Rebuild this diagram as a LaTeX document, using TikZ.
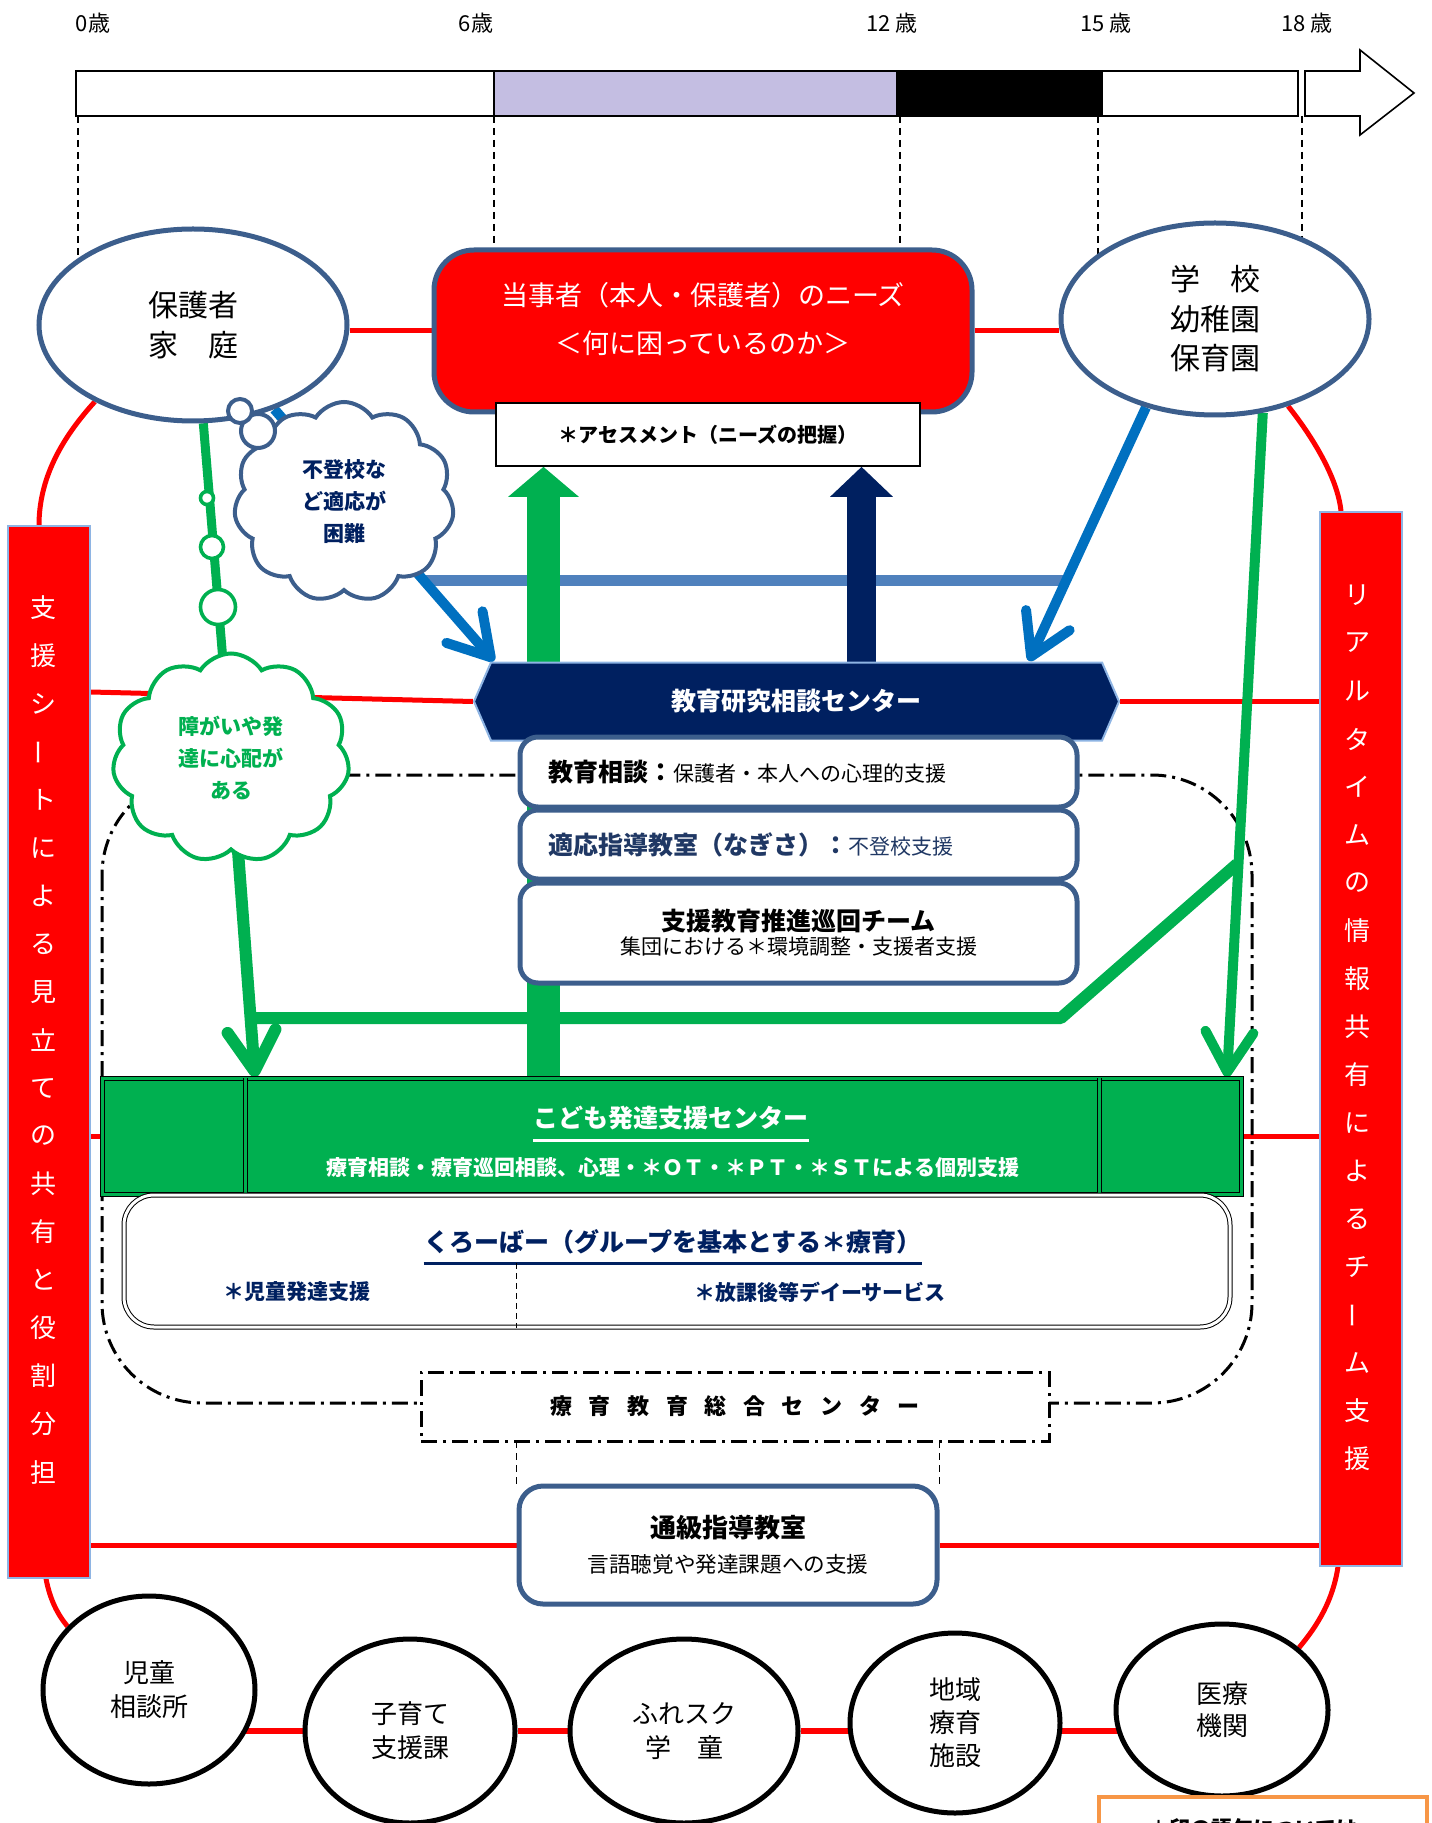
\documentclass[tikz,border=0pt]{standalone}
\usepackage{fontspec}
\setmainfont{Noto Sans CJK JP}
\usepackage{graphicx}
\usetikzlibrary{shapes.geometric,shapes.symbols,arrows.meta,calc}
\pgfdeclarelayer{bg}
\pgfsetlayers{bg,main}
\newcommand\fsz[2]{\fontsize{#1}{#2}\selectfont}
\newcommand\vbar{\rotatebox[origin=c]{90}{ー}}
\definecolor{cred}{HTML}{FF0000}
\definecolor{csteel}{HTML}{3C5E8C}
\definecolor{cnavy}{HTML}{002060}
\definecolor{cnavyb}{HTML}{203864}
\definecolor{cgreen}{HTML}{00B050}
\definecolor{cblue}{HTML}{0070C0}
\definecolor{clbar}{HTML}{4F81BD}
\definecolor{clav}{HTML}{C4BEE2}
\definecolor{corange}{HTML}{F79646}
\definecolor{cltblue}{HTML}{8EB4E3}
\begin{document}
\begin{tikzpicture}[x=0.5pt,y=-0.5pt,
  redline/.style={draw=cred, line width=2.5pt},
  tdash/.style={draw=black, line width=0.6pt, dash pattern=on 3.5pt off 2.5pt},
  dashdot/.style={draw=black, line width=1.5pt, dash pattern=on 8pt off 3pt on 1.5pt off 3pt},
  agelbl/.style={font=\fsz{11}{13}, inner sep=0},
  steelell/.style={ellipse, draw=csteel, line width=2.5pt, fill=white, inner sep=0, align=center, font=\fsz{15}{20}},
  blackell/.style={ellipse, draw=black, line width=2.5pt, fill=white, inner sep=0, align=center, font=\fsz{13}{17}},
  subbox/.style={draw=csteel, line width=2.5pt, fill=white, rounded corners=9pt, minimum width=278.5pt, text width=250pt, inner xsep=13.5pt},
  bluearr/.style={draw=cblue, line width=5pt, -{Straight Barb[length=20pt,width=24pt,round]}},
  garr/.style={draw=cgreen, -{Straight Barb[length=20pt,width=24pt,round]}},
  gline/.style={draw=cgreen},
  vtext/.style={text=white, font=\fsz{13}{13}, inner sep=0},
  bubble/.style={circle, fill=white, inner sep=0},
  cloudnode/.style={cloud, cloud puffs=11, cloud puff arc=115, cloud ignores aspect, fill=white, inner sep=0, align=center, font=\bfseries\fsz{10.5}{16}},
  barseg/.style={draw=black, line width=0.8pt}
]
\useasboundingbox (0,0) rectangle (1431,1823);

% ---------- timeline ----------
\draw[barseg, fill=white] (76,71) rectangle (494,116);
\draw[barseg, fill=clav] (494,71) rectangle (897,116);
\draw[barseg, fill=black] (897,71) rectangle (1102,116);
\draw[barseg, fill=white] (1102,71) rectangle (1298,116);
\draw[barseg, fill=white] (1305,71) -- (1360,71) -- (1360,50) -- (1414,93) -- (1360,135) -- (1360,116) -- (1305,116) -- cycle;
\node[agelbl] (a0) at (93,23) {0歳};
\node[agelbl] (a6) at (476,23) {6歳};
\node[agelbl] (a12) at (892,23) {12 歳};
\node[agelbl] (a15) at (1106,23) {15 歳};
\node[agelbl] (a18) at (1307,23) {18 歳};

% ---------- main nodes ----------
\node[steelell, minimum width=154pt, minimum height=96pt] (hogo) at (193,325) {保護者\\家　庭};
\node[steelell, minimum width=154pt, minimum height=96pt, font=\fsz{15}{19.75}] (gakko) at (1215,319) {学　校\\幼稚園\\保育園};

\node[draw=csteel, line width=2.5pt, fill=cred, rounded corners=20pt, minimum width=269pt, minimum height=81pt] (needs) at (703,331) {};
\node[font=\fsz{13.5}{24}, text=white, align=center] (needsT) at (703,319) {当事者（本人・保護者）のニーズ\\＜何に困っているのか＞};
\node[draw=black, line width=0.8pt, fill=white, minimum width=212pt, minimum height=31.5pt, font=\bfseries\fsz{10}{12}] (assess) at (708,434.5) {＊アセスメント（ニーズの把握）};

\node[signal, signal to=east and west, signal pointer angle=133, fill=cnavy, draw=cltblue, line width=1pt, minimum width=322.5pt, minimum height=39pt, text=white, font=\bfseries\fsz{12.5}{15}] (hex) at (796.5,701.5) {教育研究相談センター};

\node[subbox, minimum height=35pt, align=left] (sb1) at (798.5,772) {{\bfseries\fsz{12.5}{15}教育相談：}{\fsz{10.5}{15}保護者・本人への心理的支援}};
\node[subbox, minimum height=34.5pt, align=left, text=cnavyb] (sb2) at (798.5,844.5) {{\bfseries\fsz{12.5}{15}適応指導教室（なぎさ）：}{\fsz{10.5}{15}不登校支援}};
\node[subbox, minimum height=50pt, align=center] (sb3) at (798.5,933) {{\bfseries\fsz{12.5}{16.5}支援教育推進巡回チーム}\\{\fsz{10.5}{16.5}集団における＊環境調整・支援者支援}};

\node[draw=black, line width=0.5pt, double=cgreen, double distance=1.5pt, fill=cgreen, minimum width=569.5pt, minimum height=58pt] (gbox) at (671.5,1136) {};
\draw[black, line width=0.5pt, double=cgreen, double distance=1.5pt] (gbox.north -| 245,0) -- (gbox.south -| 245,0);
\draw[black, line width=0.5pt, double=cgreen, double distance=1.5pt] (gbox.north -| 1099,0) -- (gbox.south -| 1099,0);
\node[font=\bfseries\fsz{12.5}{15}, text=white, inner sep=0] (gtitle) at (671,1118) {こども発達支援センター};
\draw[white, line width=1.5pt] ($(gtitle.west)+(0,22)$) -- ($(gtitle.east)+(0,22)$);
\node[font=\bfseries\fsz{10.5}{12}, text=white] (gsub) at (673,1168) {療育相談・療育巡回相談、心理・＊ＯＴ・＊ＰＴ・＊ＳＴによる個別支援};

\node[draw=black, line width=0.5pt, double=white, double distance=1.5pt, fill=white, rounded corners=15pt, minimum width=553pt, minimum height=66pt] (kuro) at (677,1261) {};
\node[font=\bfseries\fsz{12.5}{15}, text=cnavy, inner sep=0] (ktitle) at (673,1242) {くろーばー（グループを基本とする＊療育）};
\draw[cnavy, line width=1.5pt] ($(ktitle.west)+(0,21)$) -- ($(ktitle.east)+(0,21)$);
\coordinate (kd) at (516,1263);
\draw[black, line width=0.5pt, dash pattern=on 3pt off 2pt] (kd) -- (kd |- kuro.south);
\node[font=\bfseries\fsz{10.5}{12}, text=cnavy] (kjido) at (297,1292) {＊児童発達支援};
\node[font=\bfseries\fsz{10.5}{12}, text=cnavy] (khoka) at (820,1292) {＊放課後等デイーサービス};

\node[dashdot, fill=white, minimum width=314pt, minimum height=34.5pt, font=\bfseries\fsz{11}{13}] (sogo) at (735,1406.5) {療\hspace{8.3pt}育\hspace{8.3pt}教\hspace{8.3pt}育\hspace{8.3pt}総\hspace{8.3pt}合\hspace{8.3pt}セ\hspace{8.3pt}ン\hspace{8.3pt}タ\hspace{8.3pt}ー};

\node[draw=csteel, line width=2.5pt, fill=white, rounded corners=12pt, minimum width=209pt, minimum height=59pt, align=center, font=\fsz{10.8}{17.5}] (tsukyu) at (728,1545) {{\bfseries\fsz{13}{17.5}通級指導教室}\\言語聴覚や発達課題への支援};

% red side boxes
\node[fill=cred, draw=cltblue, line width=0.6pt, minimum width=41pt, minimum height=526pt] (lbox) at (49,1052) {};
\node[fill=cred, draw=cltblue, line width=0.6pt, minimum width=41pt, minimum height=527pt] (rbox) at (1361,1039) {};
\foreach \c [count=\i from 0] in {支,援,シ,\vbar,ト,に,よ,る,見,立,て,の,共,有,と,役,割,分,担}
  \node[vtext] (lt\i) at (43,{608+48*\i}) {\c};
\foreach \c [count=\i from 0] in {リ,ア,ル,タ,イ,ム,の,情,報,共,有,に,よ,る,チ,\vbar,ム,支,援}
  \node[vtext] (rt\i) at (1357,{595+48*\i}) {\c};

% bottom ellipses
\node[blackell, minimum width=106pt, minimum height=94pt] (e1) at (149,1690) {児童\\相談所};
\node[blackell, minimum width=105pt, minimum height=92pt] (e2) at (410,1731) {子育て\\支援課};
\node[blackell, minimum width=114pt, minimum height=92pt] (e3) at (684,1731) {ふれスク\\学　童};
\node[blackell, minimum width=105pt, minimum height=90pt, font=\fsz{13}{16.5}] (e4) at (955,1723) {地域\\療育\\施設};
\node[blackell, minimum width=106pt, minimum height=86pt, font=\fsz{13}{16}] (e5) at (1222,1710) {医療\\機関};

% note box (cut off at the bottom edge, as in the reference)
\node[draw=corange, line width=2pt, fill=white, minimum width=164pt, minimum height=50pt, anchor=north west] (note) at (1097,1795) {};
\node[font=\bfseries\fsz{10.5}{12}] (noteT) at (1253,1829) {＊印の語句については};

% clouds and bubbles
\node[cloudnode, draw=csteel, line width=2pt, text=cnavy, minimum width=110pt, minimum height=100pt] (bcloud) at (344,502) {不登校な\\ど適応が\\困難};
\node[bubble, draw=csteel, line width=2pt, minimum size=17pt] (bb2) at (258,431) {};
\node[bubble, draw=csteel, line width=2pt, minimum size=12pt] (bb1) at (240,411) {};
\node[cloudnode, draw=cgreen, line width=2pt, text=cgreen, minimum width=118.5pt, minimum height=104.5pt] (gcloud) at (231,758) {障がいや発\\達に心配が\\ある};
\node[bubble, draw=cgreen, line width=1.8pt, minimum size=6.5pt] (gb1) at (207,498) {};
\node[bubble, draw=cgreen, line width=1.8pt, minimum size=11.5pt] (gb2) at (212,547) {};
\node[bubble, draw=cgreen, line width=1.8pt, minimum size=17.5pt] (gb3) at (218,607) {};

% ---------- connectors (background) ----------
\coordinate (yr1) at (0,692);
\coordinate (lb1) at (424,580);
\coordinate (lb2) at (1065,580);
\coordinate (ga) at (543.5,1078);
\coordinate (na) at (861.5,700);
\coordinate (bt1) at (494,661);
\coordinate (bt2) at (1029,661);
\coordinate (gt1) at (255,1077);
\coordinate (gt2) at (1227,1077);
\coordinate (gj) at (1237,864);
\coordinate (gk) at (1061,1018);
\coordinate (gl) at (255,1018);
\begin{pgfonlayer}{bg}
  % timeline guides
  \draw[tdash] (78,116) -- (78,300);
  \draw[tdash] (494,116) -- (494,300);
  \draw[tdash] (900,116) -- (900,300);
  \draw[tdash] (1098,116) -- (1098,300);
  \draw[tdash] (1302,116) -- (1302,300);
  % red network
  \draw[redline] (hogo.east |- needs.west) -- (needs.west);
  \draw[redline] (needs.east) -- (gakko.west |- needs.east);
  \draw[redline] (hogo.-142) .. controls (60,440) and (39,480) .. ($(lbox.north)+(-10,0)$);
  \draw[redline] ($(lbox.south)+(-3,0)$) .. controls (50,1600) and (58,1615) .. (e1.142);
  \draw[redline] (gakko.-50) .. controls (1315,440) and (1338,480) .. ($(rbox.north)+(-20,0)$);
  \draw[redline] ($(rbox.south)+(-23,0)$) .. controls (1333,1600) and (1318,1625) .. (e5.39);
  \draw[redline] (lbox.east |- yr1) -- (hex.west);
  \draw[redline] (hex.east) -- (rbox.west |- hex.east);
  \draw[redline] (lbox.east |- gbox.west) -- (gbox.west);
  \draw[redline] (gbox.east) -- (rbox.west |- gbox.east);
  \draw[redline] (lbox.east |- tsukyu.west) -- (tsukyu.west);
  \draw[redline] (tsukyu.east) -- (rbox.west |- tsukyu.east);
  \draw[redline, line width=3pt] (e1 |- e2) -- (e2) -- (e3) -- (e4 |- e2) -- (e5 |- e2);
  % dash-dot region
  \draw[dashdot, rounded corners=50pt] (102,775) rectangle (1252,1403);
  \draw[tdash] (tsukyu.north west) -- (tsukyu.north west |- sogo.south);
  \draw[tdash] (tsukyu.north east) -- (tsukyu.north east |- sogo.south);
  % light bar
  \draw[clbar, line width=5.5pt] (lb1) -- (lb2);
  % big arrows
  \draw[cgreen, line width=16.5pt, -{Triangle[length=15pt,width=34.5pt]}] (ga) -- (ga |- assess.south);
  \draw[cnavy, line width=14.5pt, -{Triangle[length=15pt,width=30.5pt]}] (na) -- (na |- assess.south);
  % blue arrows
  \draw[bluearr] (hogo.-46) -- (bt1);
  \draw[bluearr] (gakko.-128) -- (bt2);
  % green arrows
  \draw[gline, line width=4.5pt] (hogo.-84) -- (gcloud.center);
  \draw[garr, line width=6pt] (gcloud.center) -- (gt1);
  \draw[garr, line width=5pt] (gakko.-63) -- (gt2);
  \draw[gline, line width=6pt, line join=round] (gj) -- (gk) -- (gl);
\end{pgfonlayer}
\end{tikzpicture}
\end{document}
